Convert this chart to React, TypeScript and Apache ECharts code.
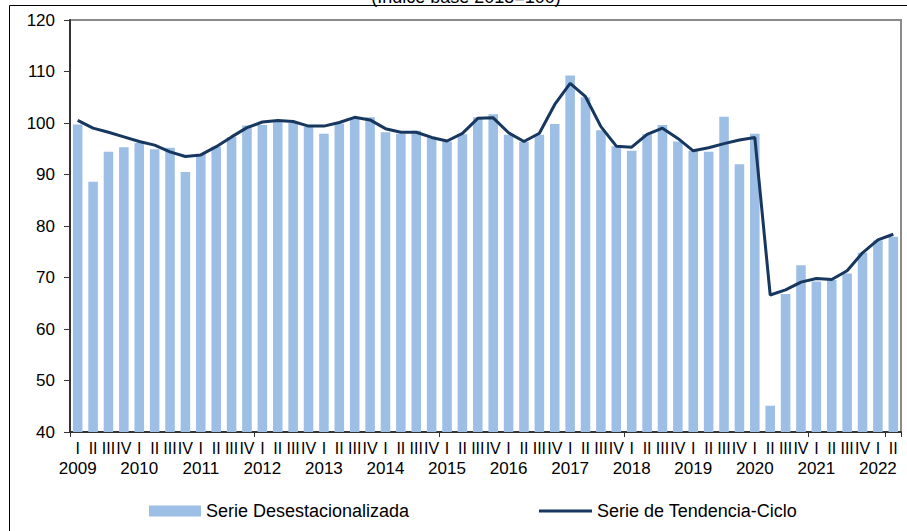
import React, { useEffect, useRef } from "react";
import * as echarts from "echarts";

const years = ["2009", "2010", "2011", "2012", "2013", "2014", "2015", "2016", "2017", "2018", "2019", "2020", "2021", "2022"];
const quarterLabels = ["I", "II", "III", "IV"];
const categories = years.flatMap((y) => quarterLabels.map((q) => `${q}-${y}`)).slice(0, 54);

const desestacionalizada = [
  99.7, 88.6, 94.4, 95.3, 96.1, 94.9, 95.2, 90.5,
  94.0, 95.4, 97.3, 99.5, 99.6, 100.2, 100.0, 99.2,
  97.9, 99.9, 101.0, 101.1, 98.2, 97.9, 98.5, 97.2,
  96.4, 97.8, 101.1, 101.7, 97.7, 96.3, 97.7, 99.8,
  109.2, 105.0, 98.6, 95.5, 94.6, 97.8, 99.6, 96.4,
  94.6, 94.4, 101.2, 92.0, 97.9, 45.1, 66.8, 72.4,
  69.2, 69.5, 70.8, 74.8, 77.2, 77.9,
];

const tendenciaCiclo = [
  100.5, 99.0, 98.2, 97.3, 96.4, 95.7, 94.4, 93.5,
  93.8, 95.4, 97.3, 99.1, 100.2, 100.5, 100.3, 99.4,
  99.4, 100.1, 101.1, 100.6, 98.9, 98.2, 98.2, 97.2,
  96.5, 98.0, 100.9, 101.0, 98.1, 96.4, 98.0, 103.6,
  107.7, 105.1, 99.3, 95.5, 95.3, 97.8, 99.0, 97.0,
  94.6, 95.2, 96.0, 96.7, 97.2, 66.6, 67.6, 69.1,
  69.8, 69.6, 71.3, 74.8, 77.3, 78.4,
];

const titleText = "(Índice base 2015=100)";
const FONT = "'Liberation Sans', Arial, sans-serif";

export default function App() {
  const ref = useRef<HTMLDivElement>(null);
  useEffect(() => {
    if (!ref.current) return;
    const chart = echarts.init(ref.current, null, { renderer: "svg" });
    chart.setOption({
      animation: false,
      backgroundColor: "#ffffff",
      textStyle: { fontFamily: FONT },
      graphic: [
        {
          type: "rect",
          shape: { x: 9.5, y: 5.5, width: 1000, height: 1000 },
          style: { fill: "none", stroke: "#000", lineWidth: 1 },
          silent: true,
          z: 0,
        },
        {
          type: "text",
          x: 466,
          y: 6,
          style: {
            text: titleText,
            fontSize: 18,
            fontFamily: FONT,
            fill: "#000",
            textAlign: "center",
            textVerticalAlign: "bottom",
          },
          z: 1,
        },
      ],
      grid: {
        left: 70,
        right: 6,
        top: 20,
        bottom: 99,
        show: true,
        borderColor: "#8a8a8a",
        borderWidth: 2,
        backgroundColor: "#fff",
      },
      legend: [
        {
          data: [{ name: "Serie Desestacionalizada", icon: "rect" }],
          left: 144,
          top: 497,
          itemWidth: 52,
          itemHeight: 11,
          textStyle: { fontSize: 18, color: "#000", fontFamily: FONT },
        },
        {
          data: [{ name: "Serie de Tendencia-Ciclo", icon: "rect" }],
          left: 534,
          top: 497,
          itemWidth: 53,
          itemHeight: 3,
          textStyle: { fontSize: 18, color: "#000", fontFamily: FONT },
        },
      ],
      xAxis: {
        type: "category",
        data: categories,
        boundaryGap: true,
        axisLine: { show: true, lineStyle: { color: "#333", width: 2 } },
        axisTick: { show: true, interval: 11, length: 5, lineStyle: { color: "#333" } },
        axisLabel: {
          interval: 0,
          margin: 6,
          color: "#000",
          formatter: (value: string) => {
            const [q, y] = value.split("-");
            return q === "I" ? `{q|I}\n{y|${y}}` : `{q|${q}}`;
          },
          rich: {
            q: { fontSize: 16, lineHeight: 20, color: "#000", fontFamily: FONT },
            y: { fontSize: 17, lineHeight: 20, color: "#000", fontFamily: FONT },
          },
        },
        splitLine: { show: false },
      },
      yAxis: {
        type: "value",
        min: 40,
        max: 120,
        interval: 10,
        axisLine: { show: true, lineStyle: { color: "#333", width: 2 } },
        axisTick: { show: true, length: 6, lineStyle: { color: "#333" } },
        axisLabel: { fontSize: 17, color: "#000", margin: 15, fontFamily: FONT },
        splitLine: { show: false },
      },
      series: [
        {
          name: "Serie Desestacionalizada",
          type: "bar",
          data: desestacionalizada,
          barCategoryGap: "38%",
          itemStyle: { color: "#9dbfe5" },
          z: 2,
        },
        {
          name: "Serie de Tendencia-Ciclo",
          type: "line",
          data: tendenciaCiclo,
          symbol: "none",
          lineStyle: { color: "#17375e", width: 3 },
          itemStyle: { color: "#17375e" },
          z: 3,
        },
      ],
    });
    return () => chart.dispose();
  }, []);
  return (
    <div
      ref={ref}
      style={{ position: "fixed", left: 0, top: 0, width: 907, height: 531 }}
    />
  );
}
